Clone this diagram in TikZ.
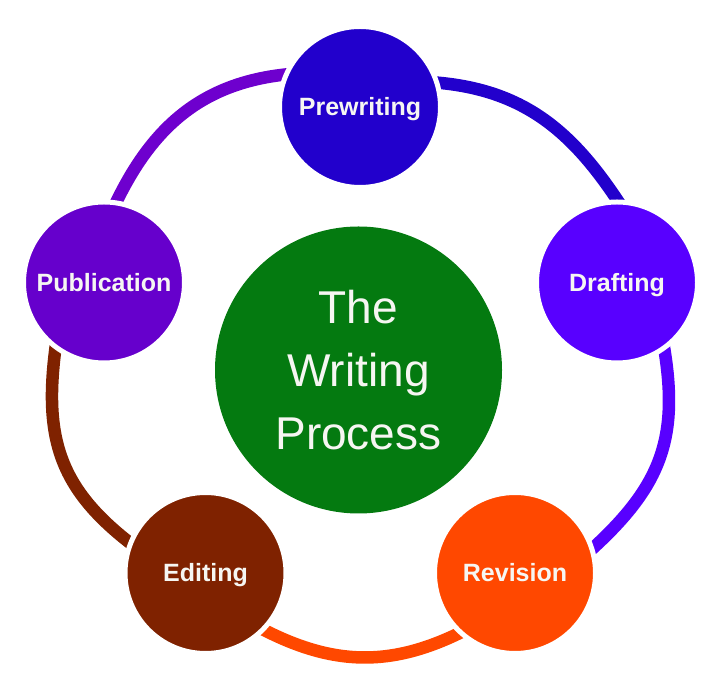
\documentclass[tikz,border=0pt]{standalone}
\usepackage{fontspec}
\setmainfont{Liberation Sans}
\usetikzlibrary{backgrounds}

\definecolor{prewcol}{HTML}{2200CC}
\definecolor{draftcol}{HTML}{5800FF}
\definecolor{revcol}{HTML}{FF4800}
\definecolor{editcol}{HTML}{7F2200}
\definecolor{pubcol}{HTML}{6600CC}
\definecolor{pubarc}{HTML}{6E00CE}
\definecolor{corecol}{HTML}{047A10}
\definecolor{labelcol}{HTML}{F6F6F2}

\begin{document}
\begin{tikzpicture}[x=1pt, y=1pt,
  stage/.style={circle, minimum size=161pt, inner sep=0pt, draw=white, line width=5pt,
    text=labelcol, text height=18pt, text depth=0pt,
    font=\fontsize{25}{30}\selectfont\bfseries},
  flow/.style={line width=12.5pt, shorten <=-8pt, shorten >=-8pt}]
  \useasboundingbox (0,0) rectangle (722,690);

  % the five stages
  \node[stage, fill=prewcol]  (pre) at (360,583)   {Prewriting};
  \node[stage, fill=draftcol] (dra) at (617,407.5) {Drafting};
  \node[stage, fill=revcol]   (rev) at (515,117)   {Revision};
  \node[stage, fill=editcol]  (edi) at (205.5,117) {Editing};
  \node[stage, fill=pubcol]   (pub) at (104,407.5) {Publication};

  % centre
  \node[circle, fill=corecol, minimum size=287pt, inner sep=0pt, text=labelcol,
    align=center, font=\fontsize{46}{63}\selectfont] (core) at (358.5,320)
    {The\\Writing\\Process};

  % ring, clockwise
  \begin{scope}[on background layer]
    \draw[flow, prewcol]  (pre.17)   to[out=-4, in=123]  (dra.90);
    \draw[flow, draftcol] (dra.-55)  to[out=-80, in=42, looseness=1.1] (rev.18);
    \draw[flow, revcol]   (rev.-133) to[out=207, in=-28] (edi.-44);
    \draw[flow, editcol]  (edi.158)  to[out=143, in=262, looseness=1.1] (pub.-126);
    \draw[flow, pubarc]   (pub.81)   to[out=65, in=185]  (pre.157);
  \end{scope}
\end{tikzpicture}
\end{document}
